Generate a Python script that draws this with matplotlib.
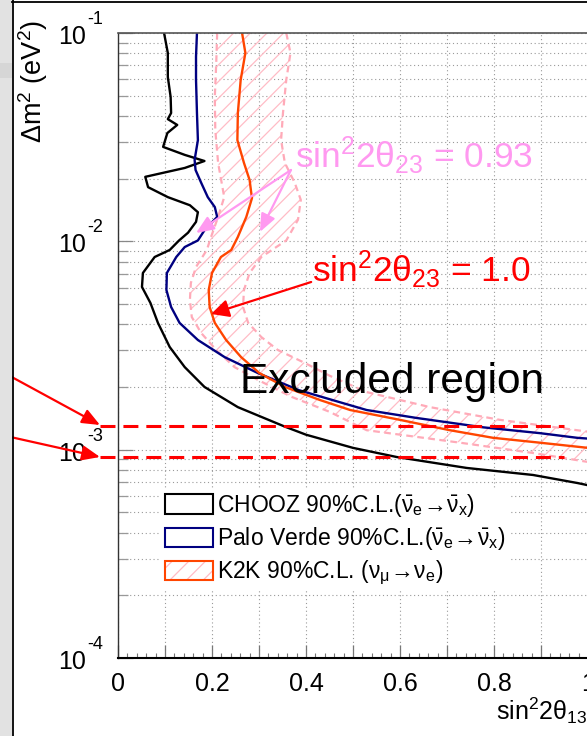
import matplotlib
matplotlib.use("Agg")
import matplotlib.pyplot as plt
from matplotlib.patches import Patch, Rectangle
from matplotlib.lines import Line2D
from matplotlib.legend_handler import HandlerTuple
from matplotlib.ticker import LogLocator, NullFormatter

plt.rcParams['font.family'] = ['Liberation Sans', 'DejaVu Sans']
plt.rcParams['mathtext.fontset'] = 'custom'
plt.rcParams['mathtext.rm'] = 'Liberation Sans'
plt.rcParams['mathtext.it'] = 'Liberation Sans'
plt.rcParams['mathtext.bf'] = 'Liberation Sans:bold'
plt.rcParams['mathtext.default'] = 'rm'
plt.rcParams['hatch.linewidth'] = 0.9

# --- contours: sin^2(2theta13) vs dm^2 (eV^2) ---
chooz_x = [0.098, 0.106, 0.106, 0.112, 0.113, 0.106, 0.126, 0.105, 0.096, 0.142,
           0.184, 0.142, 0.058, 0.064, 0.106, 0.153, 0.170, 0.166, 0.149, 0.130,
           0.110, 0.078, 0.053, 0.051, 0.069, 0.085, 0.110, 0.142, 0.184, 0.255,
           0.355, 0.400, 0.500, 0.593, 0.742, 0.883, 0.977, 1.0]
chooz_y = [0.100, 0.0802, 0.0615, 0.0493, 0.0413, 0.0386, 0.0362, 0.0331, 0.0284, 0.0260,
           0.0243, 0.0225, 0.0204, 0.0182, 0.0163, 0.0149, 0.0138, 0.0124, 0.0110, 0.0101,
           0.00909, 0.00841, 0.00705, 0.00604, 0.00506, 0.00406, 0.00311, 0.00249, 0.00200, 0.00160,
           0.00129, 0.00118, 0.00102, 0.000922, 0.000817, 0.000756, 0.000692, 0.000675]

pv_x = [0.168, 0.166, 0.166, 0.168, 0.170, 0.163, 0.165, 0.177, 0.191, 0.206,
        0.211, 0.184, 0.170, 0.142, 0.124, 0.104, 0.103, 0.113, 0.131, 0.170,
        0.227, 0.298, 0.385, 0.468, 0.529, 0.635, 0.777, 0.898, 0.977, 1.0]
pv_y = [0.100, 0.0770, 0.0595, 0.0413, 0.0306, 0.0246, 0.0220, 0.0191, 0.0163, 0.0146,
        0.0131, 0.0113, 0.0101, 0.00939, 0.00841, 0.00705, 0.00584, 0.00484, 0.00406, 0.00336,
        0.00278, 0.00233, 0.00193, 0.00170, 0.00155, 0.00142, 0.00128, 0.00120, 0.00114, 0.00113]

k2k_x = [0.264, 0.271, 0.261, 0.255, 0.254, 0.268, 0.280, 0.285, 0.273, 0.255,
         0.241, 0.219, 0.200, 0.193, 0.195, 0.206, 0.230, 0.262, 0.301, 0.355,
         0.430, 0.494, 0.600, 0.706, 0.798, 0.898, 1.0]
k2k_y = [0.100, 0.0802, 0.0595, 0.0413, 0.0306, 0.0238, 0.0197, 0.0161, 0.0131, 0.0105,
         0.00909, 0.00841, 0.00705, 0.00584, 0.00484, 0.00406, 0.00336, 0.00278, 0.00233, 0.00200,
         0.00173, 0.00155, 0.00139, 0.00124, 0.00114, 0.00108, 0.00102]

# sin^2(2theta23) = 0.93 band edges
k2k93_in_x = [0.211, 0.209, 0.206, 0.207, 0.213, 0.226, 0.213, 0.198, 0.189, 0.166,
              0.155, 0.153, 0.157, 0.177, 0.209, 0.248, 0.298, 0.370, 0.450, 0.529,
              0.728, 0.883, 1.0]
k2k93_in_y = [0.100, 0.0718, 0.0493, 0.0342, 0.0238, 0.0163, 0.0131, 0.0105, 0.00909, 0.00753,
              0.00631, 0.00523, 0.00433, 0.00363, 0.00301, 0.00249, 0.00216, 0.00179, 0.00152, 0.00124,
              0.00108, 0.000964, 0.000873]
k2k93_out_x = [0.358, 0.367, 0.358, 0.351, 0.347, 0.355, 0.376, 0.389, 0.383, 0.358,
               0.305, 0.280, 0.268, 0.266, 0.277, 0.305, 0.340, 0.397, 0.451, 0.529,
               0.664, 0.813, 1.0]
k2k93_out_y = [0.100, 0.0802, 0.0595, 0.0413, 0.0306, 0.0238, 0.0191, 0.0158, 0.0127, 0.0101,
               0.00841, 0.00705, 0.00584, 0.00484, 0.00406, 0.00347, 0.00301, 0.00261, 0.00226, 0.00189,
               0.00160, 0.00139, 0.00122]

ref_dm2 = [1.3e-3, 0.92e-3]

x_ticks = [0, 0.1, 0.2, 0.3, 0.4, 0.5, 0.6, 0.7, 0.8, 0.9, 1.0]
x_labels = ['0', '', '0.2', '', '0.4', '', '0.6', '', '0.8', '', '1']
y_decades = [1e-1, 1e-2, 1e-3, 1e-4]
y_exps = ['-1', '-2', '-3', '-4']

legend_labels = [r'CHOOZ 90%C.L.($\bar{\nu}_e\!\rightarrow\!\bar{\nu}_x$)',
                 r'Palo Verde 90%C.L.($\bar{\nu}_e\!\rightarrow\!\bar{\nu}_x$)',
                 r'K2K 90%C.L. ($\nu_\mu\!\rightarrow\!\nu_e$)']

c_chooz = 'black'
c_pv = '#000080'
c_k2k = '#ff4500'
c_pink = '#ffaab8'
c_hatch = '#ffbcc6'
c_label = '#ff99f0'

W, H = 587, 736
fig = plt.figure(figsize=(W / 100, H / 100), dpi=100)

# slide background strip + pad frame
fig.add_artist(Rectangle((0, 0), 12 / W, 1, transform=fig.transFigure,
                         facecolor='#e2e2e2', edgecolor='none'))
fig.add_artist(Rectangle((0, 1 - 78 / H), 12 / W, 15 / H, transform=fig.transFigure,
                         facecolor='#d6d6d6', edgecolor='none'))
fig.add_artist(Line2D([12.5 / W, 12.5 / W], [0, 1], transform=fig.transFigure,
                      color='black', lw=1.3))
fig.add_artist(Line2D([12 / W, 1], [1 - 1.5 / H, 1 - 1.5 / H], transform=fig.transFigure,
                      color='black', lw=1.3))

ax = fig.add_axes([118 / W, 78 / H, 470 / W, 625 / H])
ax.set_yscale('log')
ax.set_xlim(0, 1)
ax.set_ylim(1e-4, 1e-1)

# grid
ax.set_xticks(x_ticks)
ax.set_xticklabels(x_labels, fontsize=18)
ax.xaxis.set_minor_locator(plt.MultipleLocator(0.02))
ax.yaxis.set_major_locator(LogLocator(base=10, numticks=10))
ax.yaxis.set_minor_locator(LogLocator(base=10, subs=range(2, 10), numticks=40))
ax.yaxis.set_major_formatter(NullFormatter())
ax.yaxis.set_minor_formatter(NullFormatter())
ax.grid(True, which='major', axis='x', color='#9a9a9a', lw=0.8, ls=(0, (1, 2.5)), zorder=0)
ax.grid(True, which='both', axis='y', color='#9a9a9a', lw=0.8, ls=(0, (1, 2.5)), zorder=0)
ax.set_axisbelow(True)
ax.tick_params(axis='x', which='major', direction='in', length=9.5, width=0.9, color='#777777', pad=10)
ax.tick_params(axis='x', which='minor', direction='in', length=3.5, width=0.8, color='#777777')
ax.tick_params(axis='y', which='major', direction='in', length=11, width=0.9, color='#888888')
ax.tick_params(axis='y', which='minor', direction='in', length=7, width=0.9, color='#999999')
ax.spines['right'].set_visible(False)
ax.spines['top'].set_color('#555555')
ax.spines['top'].set_linewidth(1.2)
ax.spines['left'].set_color('#333333')
ax.spines['left'].set_linewidth(1.0)
ax.spines['bottom'].set_linewidth(1.5)

# y tick labels in ROOT style
for v, e in zip(y_decades, y_exps):
    ax.annotate('10', xy=(0, v), xycoords=('axes fraction', 'data'), xytext=(-32, -11),
                textcoords='offset pixels', ha='right', va='baseline', fontsize=18,
                annotation_clip=False)
    ax.annotate(e, xy=(0, v), xycoords=('axes fraction', 'data'), xytext=(-31, 9),
                textcoords='offset pixels', ha='left', va='baseline', fontsize=13,
                annotation_clip=False)

# K2K 0.93 hatched band
band_x = k2k93_out_x + k2k93_in_x[::-1]
band_y = k2k93_out_y + k2k93_in_y[::-1]
ax.fill(band_x, band_y, facecolor='none', edgecolor=c_hatch, lw=0, hatch='//', zorder=1)
ax.plot(k2k93_in_x, k2k93_in_y, color=c_pink, lw=1.6, ls=(0, (3.0, 2.0)), zorder=1.5)
ax.plot(k2k93_out_x, k2k93_out_y, color=c_pink, lw=1.6, ls=(0, (3.0, 2.0)), zorder=1.5)

ax.plot(chooz_x, chooz_y, color=c_chooz, lw=1.7, zorder=2)
ax.plot(pv_x, pv_y, color=c_pv, lw=1.7, zorder=2)
ax.plot(k2k_x, k2k_y, color=c_k2k, lw=1.7, zorder=2)

for v in ref_dm2:
    ax.axhline(v, xmin=-0.038, xmax=0.95, color='red', lw=2.2, ls=(0, (4.9, 2.6)),
               clip_on=False, zorder=3)

# arrows from the slide into the plot
for tail_y, tip_y in [(367, 311), (302, 279)]:
    ax.annotate('', xy=(100, tip_y), xycoords='figure pixels', xytext=(-3, tail_y),
                textcoords='figure pixels',
                arrowprops=dict(arrowstyle='-|>,head_length=0.6,head_width=0.25',
                                mutation_scale=18, color='red', lw=1.6,
                                shrinkA=0, shrinkB=0), annotation_clip=False)

# annotations
ax.text(0.377, 0.0225, r'sin$^2$2θ$_{23}$ = 0.93', color=c_label, fontsize=25.5,
        ha='left', va='baseline', zorder=6)
for tip in [(0.166, 0.01096), (0.302, 0.0111)]:
    ax.annotate('', xy=tip, xytext=(0.368, 0.0220),
                arrowprops=dict(arrowstyle='-|>,head_length=0.6,head_width=0.25',
                                mutation_scale=18, color=c_label, lw=1.6,
                                shrinkA=0, shrinkB=0), zorder=6)

ax.text(0.413, 0.00638, r'sin$^2$2θ$_{23}$ = 1.0', color='red', fontsize=25.5,
        ha='left', va='baseline', zorder=6)
ax.annotate('', xy=(0.198, 0.00448), xytext=(0.411, 0.00638),
            arrowprops=dict(arrowstyle='-|>,head_length=0.6,head_width=0.3',
                            mutation_scale=18, color='red', lw=1.6,
                            shrinkA=0, shrinkB=0), zorder=6)

ax.text(0.26, 0.00187, 'Excluded region', color='black', fontsize=30.5,
        ha='left', va='baseline', zorder=6)

# legend
h_chooz = Patch(facecolor='white', edgecolor=c_chooz, lw=1.5)
h_pv = Patch(facecolor='white', edgecolor=c_pv, lw=1.5)
h_k2k = (Patch(facecolor='white', edgecolor=c_hatch, lw=0, hatch='//'),
         Patch(facecolor='none', edgecolor=c_k2k, lw=1.5))
leg = ax.legend([h_chooz, h_pv, h_k2k], legend_labels,
                handler_map={tuple: HandlerTuple(ndivide=1, pad=0)},
                loc='upper left', bbox_to_anchor=(0.092, 0.271), fontsize=16.5,
                frameon=True, fancybox=False, edgecolor='none', facecolor='white',
                framealpha=1, handlelength=2.1, handleheight=0.95, handletextpad=0.2,
                labelspacing=0.28, borderpad=0.15, borderaxespad=0)
leg.set_zorder(5)

# axis titles
fig.text(33 / W, 1 - 82 / H, r'Δm$^2$ (eV$^2$)', rotation=90, ha='center', va='center',
         fontsize=19.5)
fig.text(496 / W, 16 / H, r'sin$^2$2θ$_{13}$', ha='left', va='baseline', fontsize=18)

fig.savefig('out.png', dpi=100)
